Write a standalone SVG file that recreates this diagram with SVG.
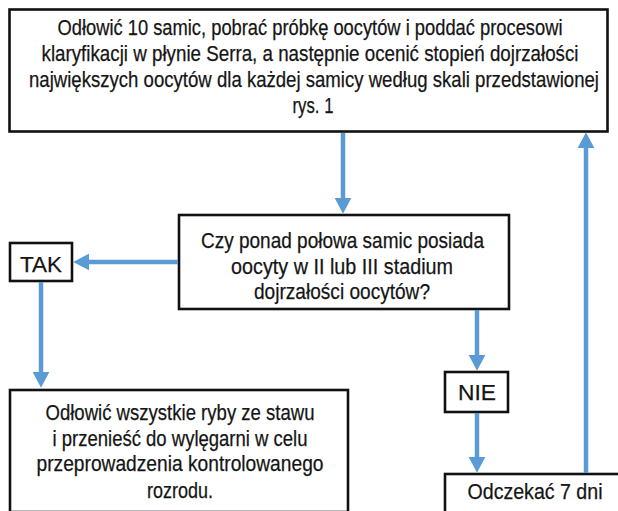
<svg xmlns="http://www.w3.org/2000/svg" width="618" height="511" viewBox="0 0 618 511">
<style>
.box{fill:#ffffff;stroke:#111111;stroke-width:2.6}
.t{font-family:"Liberation Sans",Arial,sans-serif;font-size:22px;fill:#151515;stroke:#151515;stroke-width:0.25;text-anchor:middle}
.c{stroke:#5b9bd5;stroke-width:4.5;fill:none}
</style>
<defs>
<marker id="ah" markerWidth="3.6" markerHeight="3.8" refX="0.3" refY="1.9" orient="auto" markerUnits="strokeWidth">
<path d="M0,0 L3.6,1.9 L0,3.8 Z" fill="#5b9bd5"/>
</marker>
</defs>
<rect width="618" height="511" fill="#ffffff"/>
<g id="n-start">
<rect class="box" x="9.5" y="9.5" width="598" height="122"/>
<text class="t" x="310" y="35" textLength="505" lengthAdjust="spacingAndGlyphs">Odłowić 10 samic, pobrać próbkę oocytów i poddać procesowi</text>
<text class="t" x="310" y="61" textLength="537" lengthAdjust="spacingAndGlyphs">klaryfikacji w płynie Serra, a następnie ocenić stopień dojrzałości</text>
<text class="t" x="314" y="87" textLength="570" lengthAdjust="spacingAndGlyphs">największych oocytów dla każdej samicy według skali przedstawionej</text>
<text class="t" x="313" y="113" textLength="41" lengthAdjust="spacingAndGlyphs">rys. 1</text>
</g>
<g id="n-question">
<rect class="box" x="179" y="215" width="330" height="94"/>
<text class="t" x="342.5" y="248" textLength="283" lengthAdjust="spacingAndGlyphs">Czy ponad połowa samic posiada</text>
<text class="t" x="342" y="274" textLength="222" lengthAdjust="spacingAndGlyphs">oocyty w II lub III stadium</text>
<text class="t" x="342" y="299" textLength="176" lengthAdjust="spacingAndGlyphs">dojrzałości oocytów?</text>
</g>
<g id="n-tak">
<rect class="box" x="10" y="243" width="62" height="38"/>
<text class="t" x="41" y="272" textLength="42" lengthAdjust="spacingAndGlyphs">TAK</text>
</g>
<g id="n-nie">
<rect class="box" x="445" y="372" width="63" height="40"/>
<text class="t" x="477" y="400" textLength="38" lengthAdjust="spacingAndGlyphs">NIE</text>
</g>
<g id="n-catch">
<rect class="box" x="10" y="390" width="338" height="122"/>
<text class="t" x="180" y="420" textLength="269" lengthAdjust="spacingAndGlyphs">Odłowić wszystkie ryby ze stawu</text>
<text class="t" x="180" y="446" textLength="255" lengthAdjust="spacingAndGlyphs">i przenieść do wylęgarni w celu</text>
<text class="t" x="180" y="471" textLength="287" lengthAdjust="spacingAndGlyphs">przeprowadzenia kontrolowanego</text>
<text class="t" x="180" y="498" textLength="66" lengthAdjust="spacingAndGlyphs">rozrodu.</text>
</g>
<g id="n-wait">
<rect class="box" x="445" y="474" width="190" height="40"/>
<text class="t" x="535" y="499" textLength="135" lengthAdjust="spacingAndGlyphs">Odczekać 7 dni</text>
</g>
<g id="connectors">
<line class="c" x1="343" y1="133" x2="343" y2="199" marker-end="url(#ah)"/>
<line class="c" x1="178" y1="262" x2="88" y2="262" marker-end="url(#ah)"/>
<line class="c" x1="41" y1="282" x2="41" y2="373" marker-end="url(#ah)"/>
<line class="c" x1="477" y1="310" x2="477" y2="356" marker-end="url(#ah)"/>
<line class="c" x1="477" y1="413" x2="477" y2="458" marker-end="url(#ah)"/>
<line class="c" x1="586" y1="473" x2="586" y2="147" marker-end="url(#ah)"/>
</g>
</svg>
